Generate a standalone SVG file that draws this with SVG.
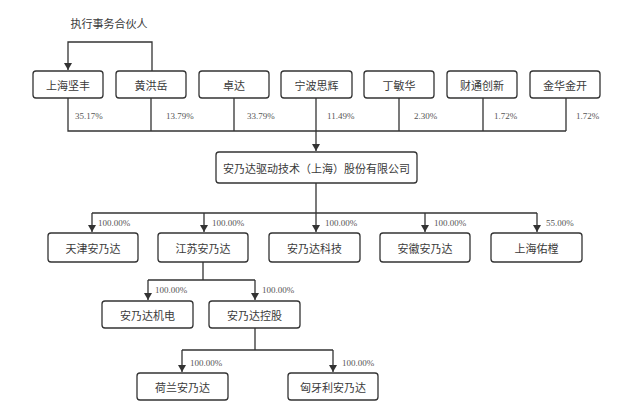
<svg xmlns="http://www.w3.org/2000/svg" width="640" height="416" viewBox="0 0 640 416">
<style>
.box{fill:#fff;stroke:#333;stroke-width:1.3}
.t{font-family:"Noto Sans CJK SC","Liberation Serif",sans-serif;font-size:11px;fill:#3a3a3a;text-anchor:middle;dominant-baseline:central}
.p{font-family:"Liberation Serif",serif;font-size:9px;fill:#555}
.ln{fill:none;stroke:#333;stroke-width:1.3}
</style>
<defs>
<marker id="ar" markerWidth="8" markerHeight="10" refX="7" refY="5" orient="auto" markerUnits="userSpaceOnUse" viewBox="0 0 8 10">
<path d="M0,1 L7,5 L0,9 Z" fill="#333"/>
</marker>
</defs>
<rect width="640" height="416" fill="#fff"/>
<g id="connectors">
<path class="ln" d="M152,71 V42 H68 V70" marker-end="url(#ar)"/>
<path class="ln" d="M68,98 V131 H566 M151,98 V131 M234,98 V131 M399,98 V131 M483,98 V131 M566,98 V131"/>
<path class="ln" d="M316,98 V151" marker-end="url(#ar)"/>
<path class="ln" d="M316,183 V213 M92,213 H537"/>
<path class="ln" d="M92,213 V232" marker-end="url(#ar)"/>
<path class="ln" d="M204,213 V232" marker-end="url(#ar)"/>
<path class="ln" d="M316,213 V232" marker-end="url(#ar)"/>
<path class="ln" d="M425,213 V232" marker-end="url(#ar)"/>
<path class="ln" d="M537,213 V232" marker-end="url(#ar)"/>
<path class="ln" d="M203,262 V280 M148,280 H255"/>
<path class="ln" d="M148,280 V300" marker-end="url(#ar)"/>
<path class="ln" d="M255,280 V300" marker-end="url(#ar)"/>
<path class="ln" d="M255,328 V350 M182,350 H333"/>
<path class="ln" d="M182,350 V372" marker-end="url(#ar)"/>
<path class="ln" d="M333,350 V372" marker-end="url(#ar)"/>
<text class="p" x="75" y="119">35.17%</text>
<text class="p" x="166" y="119">13.79%</text>
<text class="p" x="247" y="119">33.79%</text>
<text class="p" x="327" y="119">11.49%</text>
<text class="p" x="414" y="119">2.30%</text>
<text class="p" x="494" y="119">1.72%</text>
<text class="p" x="576" y="119">1.72%</text>
<text class="p" x="98" y="226">100.00%</text>
<text class="p" x="212" y="226">100.00%</text>
<text class="p" x="325" y="226">100.00%</text>
<text class="p" x="434" y="226">100.00%</text>
<text class="p" x="546" y="226">55.00%</text>
<text class="p" x="155" y="293">100.00%</text>
<text class="p" x="262" y="293">100.00%</text>
<text class="p" x="190" y="366">100.00%</text>
<text class="p" x="342" y="366">100.00%</text>
</g>
<text class="t" x="109" y="23">执行事务合伙人</text>
<g id="n1"><rect class="box" x="33" y="71" width="70" height="27" rx="3"/><text class="t" x="68" y="84.5">上海坚丰</text></g>
<g id="n2"><rect class="box" x="116" y="71" width="70" height="27" rx="3"/><text class="t" x="151" y="84.5">黄洪岳</text></g>
<g id="n3"><rect class="box" x="199" y="71" width="70" height="27" rx="3"/><text class="t" x="234" y="84.5">卓达</text></g>
<g id="n4"><rect class="box" x="281" y="71" width="71" height="27" rx="3"/><text class="t" x="316.5" y="84.5">宁波思辉</text></g>
<g id="n5"><rect class="box" x="364" y="71" width="70" height="27" rx="3"/><text class="t" x="399" y="84.5">丁敏华</text></g>
<g id="n6"><rect class="box" x="447" y="71" width="70" height="27" rx="3"/><text class="t" x="482" y="84.5">财通创新</text></g>
<g id="n7"><rect class="box" x="530" y="71" width="70" height="27" rx="3"/><text class="t" x="565" y="84.5">金华金开</text></g>
<g id="main"><rect class="box" x="216" y="152" width="201" height="31" rx="3"/><text class="t" x="316.5" y="167.5">安乃达驱动技术（上海）股份有限公司</text></g>
<g id="c1"><rect class="box" x="48" y="233" width="90" height="29" rx="3"/><text class="t" x="93" y="247.5">天津安乃达</text></g>
<g id="c2"><rect class="box" x="158" y="233" width="90" height="29" rx="3"/><text class="t" x="203" y="247.5">江苏安乃达</text></g>
<g id="c3"><rect class="box" x="269" y="233" width="91" height="29" rx="3"/><text class="t" x="314.5" y="247.5">安乃达科技</text></g>
<g id="c4"><rect class="box" x="380" y="233" width="90" height="29" rx="3"/><text class="t" x="425" y="247.5">安徽安乃达</text></g>
<g id="c5"><rect class="box" x="491" y="233" width="91" height="29" rx="3"/><text class="t" x="536.5" y="247.5">上海佑樘</text></g>
<g id="d1"><rect class="box" x="102" y="301" width="91" height="27" rx="3"/><text class="t" x="147.5" y="314.5">安乃达机电</text></g>
<g id="d2"><rect class="box" x="209" y="301" width="91" height="27" rx="3"/><text class="t" x="254.5" y="314.5">安乃达控股</text></g>
<g id="e1"><rect class="box" x="137" y="373" width="91" height="27" rx="3"/><text class="t" x="182.5" y="386.5">荷兰安乃达</text></g>
<g id="e2"><rect class="box" x="288" y="373" width="90" height="27" rx="3"/><text class="t" x="333" y="386.5">匈牙利安乃达</text></g>
</svg>
